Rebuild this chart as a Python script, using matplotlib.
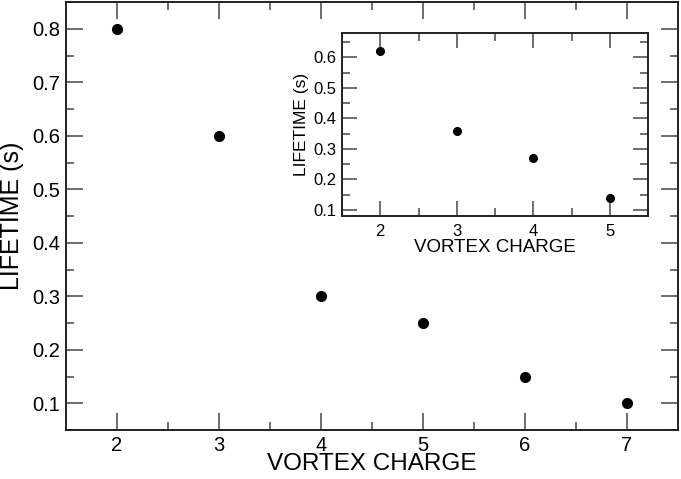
import matplotlib
matplotlib.use("Agg")
import matplotlib.pyplot as plt
from matplotlib.ticker import MultipleLocator

# main panel: lifetime vs vortex charge
charge = [2, 3, 4, 5, 6, 7]
lifetime = [0.80, 0.60, 0.30, 0.25, 0.15, 0.10]

# inset panel
inset_charge = [2, 3, 4, 5]
inset_lifetime = [0.62, 0.36, 0.27, 0.14]

plt.rcParams["font.family"] = ["Liberation Sans", "DejaVu Sans"]


def style(ax, major_len, minor_len, size, xpad):
    ax.tick_params(which="both", direction="in", top=True, right=True,
                   color="#555555", width=1.2, labelsize=size)
    ax.tick_params(which="major", length=major_len)
    ax.tick_params(which="minor", length=minor_len)
    ax.tick_params(axis="x", which="major", pad=xpad)
    ax.tick_params(axis="y", which="major", pad=4)
    for s in ax.spines.values():
        s.set_linewidth(1.4)
        s.set_color("#222222")


fig = plt.figure(figsize=(6.81, 4.79), dpi=100)
ax = fig.add_axes([66 / 681, 1 - 430 / 479, 612 / 681, 428 / 479])
ax.plot(charge, lifetime, "o", color="black", ms=7)
ax.set_xlim(1.5, 7.5)
ax.set_ylim(0.05, 0.85)
ax.xaxis.set_major_locator(MultipleLocator(1))
ax.xaxis.set_minor_locator(MultipleLocator(0.5))
ax.yaxis.set_major_locator(MultipleLocator(0.1))
ax.yaxis.set_minor_locator(MultipleLocator(0.05))
style(ax, 12, 6, 14.5, 4)
ax.set_yticks([0.1, 0.2, 0.3, 0.4, 0.5, 0.6, 0.7, 0.8])
ax.set_xlabel("VORTEX CHARGE", fontsize=17.5, labelpad=-1)
ax.set_ylabel("LIFETIME (s)", fontsize=18, labelpad=6)

ins = fig.add_axes([342 / 681, 1 - 216 / 479, 306 / 681, 183 / 479])
ins.plot(inset_charge, inset_lifetime, "o", color="black", ms=5.5)
ins.set_xlim(1.5, 5.5)
ins.set_ylim(0.08, 0.68)
ins.xaxis.set_major_locator(MultipleLocator(1))
ins.xaxis.set_minor_locator(MultipleLocator(0.5))
ins.yaxis.set_major_locator(MultipleLocator(0.1))
ins.yaxis.set_minor_locator(MultipleLocator(0.05))
style(ins, 11, 6, 12, 6)
ins.set_yticks([0.1, 0.2, 0.3, 0.4, 0.5, 0.6])
ins.set_xlabel("VORTEX CHARGE", fontsize=13.5, labelpad=0)
ins.set_ylabel("LIFETIME (s)", fontsize=12.5, labelpad=3)

fig.savefig("out.png", dpi=100)
